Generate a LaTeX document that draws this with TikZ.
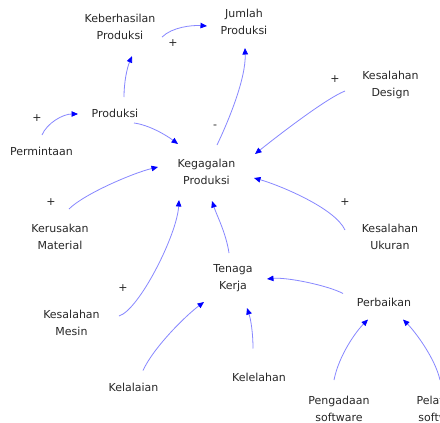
\documentclass[tikz,border=0pt]{standalone}
\usepackage{fontspec}
\setmainfont{DejaVu Sans}
\usetikzlibrary{arrows.meta}
\definecolor{linkline}{RGB}{135,135,255}
\definecolor{linkhead}{RGB}{0,0,255}
\definecolor{labeltext}{RGB}{40,40,40}
\begin{document}
\begin{tikzpicture}[x=1pt,y=-1pt,
  lbl/.style={inner sep=0pt,align=center,text=labeltext,font=\fontsize{11}{16.5}\selectfont},
  sgn/.style={inner sep=0pt,text=labeltext,font=\fontsize{11}{13}\selectfont},
  lnk/.style={draw=linkline,line width=0.8pt,-{Triangle[length=6.5pt,width=5.5pt,color=linkhead]}}]
\useasboundingbox (0,0) rectangle (440,423);
\clip (0,0) rectangle (440,423);
\fill[white] (0,0) rectangle (440,423);
% nodes
\node[lbl] (kp) at (120,27.1) {Keberhasilan\\Produksi};
\node[lbl] (jp) at (244,22) {Jumlah\\Produksi};
\node[lbl] (pr) at (115,113.8) {Produksi};
\node[lbl] (pm) at (41.5,151.6) {Permintaan};
\node[lbl] (kg) at (206.5,171.8) {Kegagalan\\Produksi};
\node[lbl] (kd) at (390.5,85) {Kesalahan\\Design};
\node[lbl] (ku) at (390,237) {Kesalahan\\Ukuran};
\node[lbl] (km) at (60,237) {Kerusakan\\Material};
\node[lbl] (ms) at (71.5,323) {Kesalahan\\Mesin};
\node[lbl] (tk) at (233,278) {Tenaga\\Kerja};
\node[lbl] (pb) at (384,302.5) {Perbaikan};
\node[lbl] (kl) at (133.5,387.5) {Kelalaian};
\node[lbl] (kh) at (259,377.5) {Kelelahan};
\node[lbl] (ps) at (339,409) {Pengadaan\\software};
\node[lbl] (pl) at (442,409) {Pelatihan\\software};
% signs
\node[sgn] (s1) at (173,43) {+};
\node[sgn] (s2) at (215,127) {-};
\node[sgn] (s3) at (37,118) {+};
\node[sgn] (s4) at (335,79) {+};
\node[sgn] (s5) at (345,202) {+};
\node[sgn] (s6) at (51,202) {+};
\node[sgn] (s7) at (123,288) {+};
% links
\draw[lnk] ([shift={(9,-16.8)}]pr.center) .. controls +(0,-15) and +(-5,12) .. ([shift={(12,29)}]kp.center);
\draw[lnk] ([shift={(42,10)}]kp.center) .. controls +(10,-10) and +(-15,-1) .. ([shift={(-37,4)}]jp.center);
\draw[lnk] ([shift={(10.5,-26.8)}]kg.center) .. controls +(12,-25) and +(1,30) .. ([shift={(1,26)}]jp.center);
\draw[lnk] ([shift={(0.5,-16.6)}]pm.center) .. controls +(5,-12) and +(-15,0) .. ([shift={(-37,0.2)}]pr.center);
\draw[lnk] ([shift={(19,9.2)}]pr.center) .. controls +(15,2) and +(-12,-9) .. ([shift={(-28.5,-27.8)}]kg.center);
\draw[lnk] ([shift={(-45.5,6)}]kd.center) .. controls +(-20,8) and +(20,-16) .. ([shift={(48.5,-17.8)}]kg.center);
\draw[lnk] ([shift={(-45,-7)}]ku.center) .. controls +(-10,-22) and +(25,7) .. ([shift={(47.5,6.2)}]kg.center);
\draw[lnk] ([shift={(9,-28)}]km.center) .. controls +(15,-15) and +(-25,6) .. ([shift={(-48.5,-4.8)}]kg.center);
\draw[lnk] ([shift={(47.5,-7)}]ms.center) .. controls +(20,-6) and +(-2,35) .. ([shift={(-27.5,28.2)}]kg.center);
\draw[lnk] ([shift={(-4,-25)}]tk.center) .. controls +(-3,-20) and +(5,15) .. ([shift={(5.5,29.2)}]kg.center);
\draw[lnk] ([shift={(9.5,-17)}]kl.center) .. controls +(10,-22) and +(-20,15) .. ([shift={(-29,24)}]tk.center);
\draw[lnk] ([shift={(-6,-29)}]kh.center) .. controls +(0,-15) and +(4,12) .. ([shift={(14,30)}]tk.center);
\draw[lnk] ([shift={(-41,-9)}]pb.center) .. controls +(-15,-8) and +(20,-2) .. ([shift={(34,1)}]tk.center);
\draw[lnk] ([shift={(-5,-29)}]ps.center) .. controls +(5,-25) and +(-12,12) .. ([shift={(-16,17)}]pb.center);
\draw[lnk] ([shift={(-2,-29)}]pl.center) .. controls +(-5,-22) and +(12,12) .. ([shift={(19,17)}]pb.center);
\end{tikzpicture}
\end{document}
